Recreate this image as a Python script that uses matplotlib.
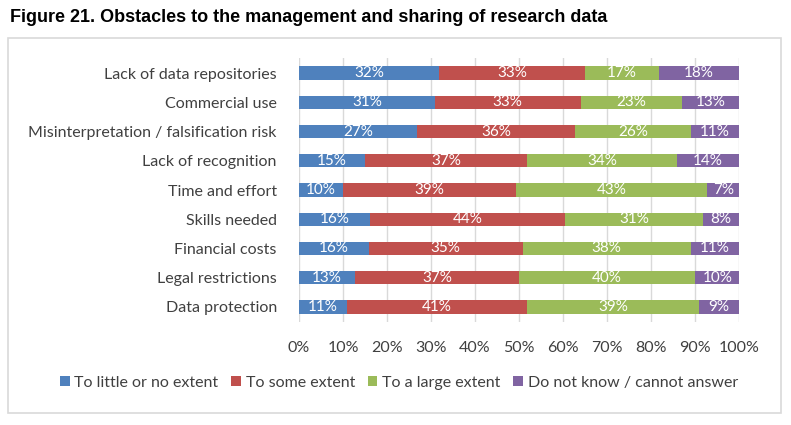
import matplotlib.pyplot as plt
import numpy as np
from matplotlib.patches import Rectangle

categories = [
    "Lack of data repositories",
    "Commercial use",
    "Misinterpretation / falsification risk",
    "Lack of recognition",
    "Time and effort",
    "Skills needed",
    "Financial costs",
    "Legal restrictions",
    "Data protection",
]
series_names = [
    "To little or no extent",
    "To some extent",
    "To a large extent",
    "Do not know / cannot answer",
]
little = [31.9, 30.9, 26.9, 14.9, 10.0, 16.1, 15.8, 12.8, 10.8]
some = [33.0, 33.1, 35.9, 37.0, 39.4, 44.4, 35.0, 37.1, 41.1]
large = [17.0, 23.0, 26.3, 34.1, 43.4, 31.4, 38.3, 40.2, 39.1]
dont_know = [18.1, 13.0, 10.9, 14.0, 7.2, 8.1, 10.9, 9.9, 9.0]
colors = ["#4f81bd", "#c0504d", "#9bbb59", "#8064a2"]

plt.rcParams["font.family"] = ["Lato", "DejaVu Sans"]

fig = plt.figure(figsize=(7.91, 4.25), dpi=100)
ax = fig.add_axes([299 / 791, 1 - 321.6 / 425, 440 / 791, 263.2 / 425])

# outer frame and title
fig.patches.append(Rectangle((8 / 791, 1 - 413 / 425), 773 / 791, 375 / 425,
                             transform=fig.transFigure, fill=False,
                             edgecolor="#d9d9d9", lw=1.2))
fig.text(10 / 791, 1 - 17 / 425, "Figure 21. Obstacles to the management and sharing of research data",
         family="Liberation Sans", weight="bold", fontsize=13, va="center", ha="left")

y = np.arange(len(categories))
left = np.zeros(len(categories))
for name, vals, c in zip(series_names, [little, some, large, dont_know], colors):
    vals = np.array(vals, dtype=float)
    ax.barh(y, vals, left=left, height=0.45, color=c, label=name, zorder=2)
    for yi, l, v in zip(y, left, vals):
        ax.text(l + v / 2, yi, f"{v:.0f}%", color="white", ha="center", va="center",
                fontsize=11, zorder=3)
    left += vals

ax.set_xlim(0, 100)
ax.set_ylim(len(categories) - 0.5, -0.5)
ax.set_xticks(np.arange(0, 101, 10))
ax.set_xticklabels([f"{t}%" for t in range(0, 101, 10)], fontsize=11.5, color="#404040")
ax.set_yticks(y)
ax.set_yticklabels(categories, fontsize=11.5, color="#404040")
ax.tick_params(length=0, pad=14)
ax.tick_params(axis="y", pad=16)
ax.grid(axis="x", color="#d9d9d9", lw=1, zorder=0)
for s in ax.spines.values():
    s.set_visible(False)

fig.legend(loc="center", bbox_to_anchor=(399 / 791, 1 - 383 / 425), ncol=4,
           frameon=False, fontsize=11.5, handlelength=0.6, handleheight=0.6,
           handletextpad=0.3, columnspacing=0.8, labelcolor="#404040")

fig.savefig("out.png", dpi=100)
